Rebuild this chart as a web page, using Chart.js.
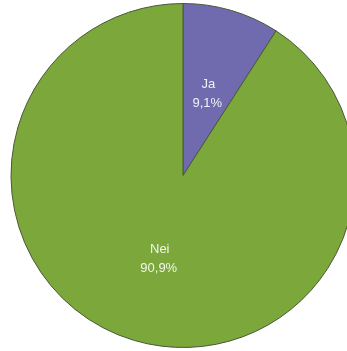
<!DOCTYPE html>
<html>
<head>
<meta charset="utf-8">
<script src="https://cdn.jsdelivr.net/npm/chart.js@4/dist/chart.umd.min.js"></script>
<style>
  html, body { margin: 0; padding: 0; background: #fff; overflow: hidden; }
  #wrap { position: absolute; left: 0; top: 0; width: 366px; height: 351px; }
</style>
</head>
<body>
<div id="wrap"><canvas id="chart-container" width="366" height="351"></canvas></div>
<script>
const categories = ['Ja', 'Nei'];
const shares = [9.1, 90.9];
const sliceColors = ['#6f6bae', '#7ba73b'];

// skriver kategori og prosent midt i hver sektor
const sliceLabels = {
  id: 'sliceLabels',
  afterDatasetsDraw(chart) {
    const ctx = chart.ctx;
    const meta = chart.getDatasetMeta(0);
    ctx.save();
    ctx.fillStyle = 'rgba(255,255,255,0.9)';
    ctx.font = '13px "Liberation Sans", Arial, sans-serif';
    ctx.textAlign = 'center';
    ctx.textBaseline = 'middle';
    meta.data.forEach((arc, i) => {
      const p = arc.getCenterPoint();
      const pct = shares[i].toFixed(1).replace('.', ',') + '%';
      ctx.fillText(categories[i], p.x + 1, p.y - 9);
      ctx.fillText(pct, p.x, p.y + 10);
    });
    ctx.restore();
  }
};

let myChart = new Chart(document.getElementById('chart-container').getContext('2d'), {
  type: 'pie',
  data: {
    labels: categories,
    datasets: [{
      data: shares,
      backgroundColor: sliceColors,
      borderColor: '#4a5838',
      borderWidth: 1
    }]
  },
  options: {
    responsive: false,
    animation: false,
    layout: { padding: { top: 3, bottom: 3, left: 0, right: 0 } },
    plugins: {
      legend: { display: false },
      tooltip: { enabled: false },
      title: { display: false }
    }
  },
  plugins: [sliceLabels]
});
</script>
</body>
</html>
